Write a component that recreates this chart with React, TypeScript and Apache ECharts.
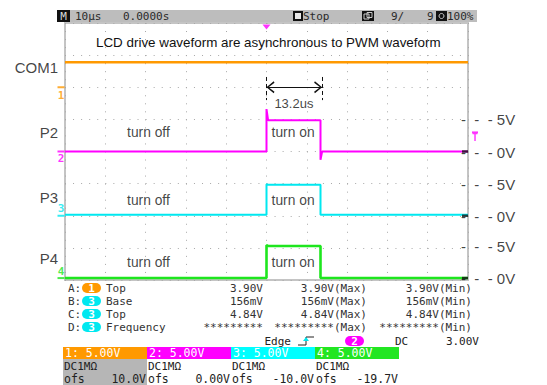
import { useEffect, useRef } from "react";
import * as echarts from "echarts";

// ---------------- data ----------------
// time axis in microseconds (10 us/div, trigger at 0)
const timeUs = [-50, 0, 0, 0.4, 13.4, 13.4, 13.8, 50];
const com1Time = [-50, 50];
const com1V = [3.9, 3.9];
const p2V = [0, 0, 6.6, 4.85, 4.85, -1.3, 0, 0];
const p3V = [0.16, 0.16, 4.9, 4.84, 4.84, 0.16, 0.16, 0.16];
const p4V = [0, 0, 5.1, 5.0, 5.0, 0, 0, 0];

const channelNames = ["COM1", "P2", "P3", "P4"];
const channelNumbers = ["1", "2", "3", "4"];
const channelOffsetsV = [10, 0, -10, -19.7];
const channelScales = ["5.00V", "5.00V", "5.00V", "5.00V"];
const channelCoupling = ["DC1MΩ", "DC1MΩ", "DC1MΩ", "DC1MΩ"];
const channelOfsText = ["10.0V", "0.00V", "-10.0V", "-19.7V"];

const levelValuesV = [5, 0];
const levelLabels = ["5V", "0V"];

// annotation anchors (screen volts / microseconds)
const nameLabelY = [13.0, 2.9, -7.1, -16.6];
const stateLabels = ["turn off", "turn on"];
const stateLabelT = [-29.3, 6.6];
const stateLabelY = [2.9, -7.7, -17.2];

const titleText = "LCD drive waveform are asynchronous to PWM waveform";
const pulseWidthLabel = "13.2us";
const pulseMarkT = [0, 13.8];
const pulseMarkY = 10;
const pulseMarkSpan = [11.6, 8.0];
const pulseLabelAt = [6.8, 7.4];

// top status bar
const timebase = "10µs";
const delayText = "0.0000s";
const runState = "Stop";
const acqCount = "9/";
const acqTotal = "9";
const zoomPct = "100%";

// measurements
const measSlots = ["A:", "B:", "C:", "D:"];
const measSources = [0, 2, 2, 2];
const measNames = ["Top", "Base", "Top", "Frequency"];
const measCurrent = ["3.90V", "156mV", "4.84V", "*********"];
const measMax = ["3.90V(Max)", "156mV(Max)", "4.84V(Max)", "*********(Max)"];
const measMin = ["3.90V(Min)", "156mV(Min)", "4.84V(Min)", "*********(Min)"];

// trigger
const trigType = "Edge";
const trigSource = 1;
const trigCoupling = "DC";
const trigLevelV = 3.0;
const trigLevelText = "3.00V";

// ---------------- styles ----------------
const SANS = '"Liberation Sans", Arial, sans-serif';
const MONO = '"DejaVu Sans Mono", "Liberation Mono", monospace';
const COLORS = ["#ff9900", "#ff00ff", "#00e8f0", "#1ee61e"];
const HEADER_COLORS = ["#ff9900", "#ff00ff", "#00ffff", "#22e622"];
const NBSP = "\u00a0";

function txt(x: number, y: number, text: string, opt: any = {}) {
  const align = opt.align || "left";
  return {
    type: "text",
    x,
    y,
    silent: true,
    style: {
      text,
      fill: opt.fill || "#2a2a2a",
      fontSize: opt.fontSize || 11,
      fontFamily: opt.fontFamily || MONO,
      fontWeight: opt.fontWeight || "normal",
      align,
      textAlign: align,
      verticalAlign: "middle",
      textVerticalAlign: "middle",
    },
  };
}

function pill(x: number, yc: number, color: string, label: string) {
  return [
    {
      type: "rect",
      silent: true,
      shape: { x, y: yc - 5, width: 19, height: 10, r: 5 },
      style: { fill: color },
    },
    txt(x + 9.5, yc, label, { fill: "#fff", align: "center", fontWeight: "bold" }),
  ];
}

function buildGraphic() {
  const g: any[] = [];
  // status bar
  g.push({ type: "rect", silent: true, shape: { x: 57, y: 10, width: 420, height: 12 }, style: { fill: "#bdbdbd" } });
  g.push({ type: "rect", silent: true, shape: { x: 57, y: 10, width: 13, height: 12 }, style: { fill: "#111" } });
  g.push(txt(63.5, 16, "M", { fill: "#d8d8d8", align: "center" }));
  g.push(txt(75, 16, timebase));
  g.push(txt(123, 16, delayText));
  g.push({ type: "rect", silent: true, shape: { x: 293, y: 11, width: 10, height: 10 }, style: { fill: "#111" } });
  g.push({ type: "rect", silent: true, shape: { x: 295, y: 13, width: 6, height: 6 }, style: { fill: "#e8e8e8" } });
  g.push(txt(303, 16, runState));
  g.push({ type: "rect", silent: true, shape: { x: 362, y: 11, width: 12, height: 10 }, style: { fill: "#111" } });
  g.push({ type: "rect", silent: true, shape: { x: 364, y: 14, width: 5, height: 5 }, style: { fill: "none", stroke: "#ccc", lineWidth: 1 } });
  g.push({ type: "rect", silent: true, shape: { x: 367, y: 12.5, width: 5, height: 5 }, style: { fill: "none", stroke: "#ccc", lineWidth: 1 } });
  g.push(txt(391, 16, acqCount));
  g.push(txt(427, 16, acqTotal));
  g.push({ type: "rect", silent: true, shape: { x: 436, y: 11, width: 11, height: 10 }, style: { fill: "#111" } });
  g.push({ type: "circle", silent: true, shape: { cx: 441.5, cy: 16, r: 2.5 }, style: { fill: "none", stroke: "#ccc", lineWidth: 1 } });
  g.push(txt(447, 16, zoomPct));

  // measurement rows
  const rowY = [288, 301, 314, 327];
  measSlots.forEach((slot, i) => {
    const y = rowY[i];
    g.push(txt(68, y, slot, { fill: "#333" }));
    g.push(...pill(82, y, COLORS[measSources[i]], channelNumbers[measSources[i]]));
    g.push(txt(106, y, measNames[i], { fill: "#333" }));
    g.push(txt(263, y, measCurrent[i], { fill: "#333", align: "right" }));
    g.push(txt(367, y, measMax[i], { fill: "#333", align: "right" }));
    g.push(txt(472, y, measMin[i], { fill: "#333", align: "right" }));
  });
  // trigger row
  const ty = 341;
  g.push(txt(291, ty, trigType, { fill: "#222", align: "right" }));
  g.push({ type: "polyline", silent: true, shape: { points: [[298, 345], [306, 345], [306, 337], [314, 337]] }, style: { stroke: "#222", lineWidth: 1, fill: "none" } });
  g.push({ type: "polygon", silent: true, shape: { points: [[303, 341], [306, 337], [309, 341]] }, style: { fill: COLORS[2] } });
  g.push(...pill(345, ty, COLORS[trigSource], channelNumbers[trigSource]));
  g.push(txt(395, ty, trigCoupling, { fill: "#222" }));
  g.push(txt(479, ty, trigLevelText, { fill: "#222", align: "right" }));

  // channel panels
  channelScales.forEach((sc, i) => {
    const x0 = 63 + i * 84;
    g.push({ type: "rect", silent: true, shape: { x: x0, y: 347, width: 84, height: 12 }, style: { fill: HEADER_COLORS[i] } });
    g.push(txt(x0 + 2, 353, `${channelNumbers[i]}: ${sc}`, { fill: "#fff", fontSize: 11.5 }));
    g.push({ type: "rect", silent: true, shape: { x: x0, y: 359, width: 84, height: 26 }, style: { fill: i === 0 ? "#b6b6b6" : "#fff" } });
    g.push(txt(x0 + 1, 366, channelCoupling[i], { fill: "#222" }));
    g.push(txt(x0 + 1, 379, "ofs", { fill: "#222", fontSize: 11.5 }));
    g.push(txt(x0 + 83, 379, channelOfsText[i], { fill: "#222", align: "right", fontSize: 11.5 }));
  });
  return g;
}

const chevron = "path://M0,9 L6,0 L12,9 L10.6,10 L6,2.6 L1.4,10 Z";

function buildOption() {
  const traces = [
    { name: channelNames[3], ts: timeUs, vs: p4V, ch: 3, width: 2.6 },
    { name: channelNames[2], ts: timeUs, vs: p3V, ch: 2, width: 2 },
    { name: channelNames[1], ts: timeUs, vs: p2V, ch: 1, width: 2 },
    { name: channelNames[0], ts: com1Time, vs: com1V, ch: 0, width: 2.4 },
  ].map((s) => ({
    type: "line",
    name: s.name,
    data: s.ts.map((t, i) => [t, s.vs[i] + channelOffsetsV[s.ch]]),
    showSymbol: false,
    symbol: "none",
    silent: true,
    lineStyle: { color: COLORS[s.ch], width: s.width },
    itemStyle: { color: COLORS[s.ch] },
    z: 3,
    ...(s.ch === 1
      ? {
          markLine: {
            silent: true,
            symbol: ["none", "none"],
            label: { show: false },
            lineStyle: { color: "#111", width: 1, type: "solid" },
            data: [
              [
                { coord: [pulseMarkT[0], pulseMarkY], symbol: chevron, symbolSize: [12, 8], symbolOffset: [0, 4] },
                { coord: [pulseMarkT[1], pulseMarkY], symbol: chevron, symbolSize: [12, 8], symbolOffset: [0, 4] },
              ],
              [
                { coord: [pulseMarkT[0], pulseMarkSpan[0]], lineStyle: { type: [4, 3] } },
                { coord: [pulseMarkT[0], pulseMarkSpan[1]] },
              ],
              [
                { coord: [pulseMarkT[1], pulseMarkSpan[0]], lineStyle: { type: [4, 3] } },
                { coord: [pulseMarkT[1], pulseMarkSpan[1]] },
              ],
            ],
          },
        }
      : {}),
  }));

  const textScatter = (data: any[], label: any, z = 5) => ({
    type: "scatter",
    data,
    symbolSize: 0,
    clip: false,
    silent: true,
    itemStyle: { color: "transparent" },
    label: { show: true, formatter: "{b}", ...label },
    z,
  });

  const nameLabels = textScatter(
    channelNames.map((n, i) => ({ name: n, value: [-50, nameLabelY[i]] })),
    { position: "left", distance: 7, fontFamily: SANS, fontSize: 15, color: "#111" }
  );

  const stateData: any[] = [];
  stateLabelY.forEach((y) => {
    stateLabels.forEach((s, j) => stateData.push({ name: s, value: [stateLabelT[j], y] }));
  });
  const stateText = textScatter(stateData, { position: "inside", fontFamily: SANS, fontSize: 13.8, color: "#111" });

  const widthText = textScatter([{ name: pulseWidthLabel, value: pulseLabelAt }], {
    position: "inside",
    fontFamily: SANS,
    fontSize: 13,
    color: "#111",
  });

  const levelData: any[] = [];
  [1, 2, 3].forEach((ch) => {
    levelValuesV.forEach((v, j) =>
      levelData.push({ name: levelLabels[j], value: [50, v + channelOffsetsV[ch]] })
    );
  });
  const levelText = textScatter(levelData, {
    position: "right",
    distance: 0,
    offset: [-7, 0.5],
    fontFamily: SANS,
    fontSize: 15,
    lineHeight: 12,
    color: "#111",
    formatter: (p: any) => `-${NBSP}${NBSP}-${NBSP}${NBSP}-${NBSP}${p.name}`,
  });

  const zeroMarks = {
    type: "scatter",
    data: [1, 2, 3].map((ch) => [50, channelOffsetsV[ch]]),
    symbol: "rect",
    symbolSize: [6, 2.5],
    symbolOffset: [-3, 0],
    clip: false,
    silent: true,
    itemStyle: { color: "#111" },
    z: 6,
  };

  const labelDy = [8.5, 7, -7.5, -7];
  const groundMarks = {
    type: "scatter",
    data: channelNumbers.map((n, i) => ({
      name: n,
      value: [-50, channelOffsetsV[i]],
      itemStyle: { color: COLORS[i] },
      label: { offset: [0, labelDy[i]], color: COLORS[i] },
    })),
    symbol: "rect",
    symbolSize: [7, 2],
    symbolOffset: [-4, 0],
    clip: false,
    silent: true,
    label: { show: true, formatter: "{b}", position: "inside", fontFamily: MONO, fontWeight: "bold", fontSize: 11 },
    z: 6,
  };

  const trigMarks = {
    type: "scatter",
    data: [
      { name: "", value: [0, 20], symbol: "triangle", symbolRotate: 180, symbolSize: [8, 5], symbolOffset: [0, 4] },
      {
        name: "T",
        value: [50, trigLevelV],
        symbol: "rect",
        symbolSize: [6, 1.6],
        symbolOffset: [7, 0],
        label: { show: true, formatter: "{b}", position: "inside", offset: [0, 5.5], lineHeight: 10, color: COLORS[1], fontFamily: MONO, fontWeight: "bold", fontSize: 10 },
      },
    ],
    clip: false,
    silent: true,
    itemStyle: { color: COLORS[1] },
    z: 6,
  };

  return {
    animation: false,
    backgroundColor: "#ffffff",
    title: {
      text: titleText,
      left: 96,
      top: 36,
      padding: 0,
      textStyle: { fontFamily: SANS, fontSize: 13.4, fontWeight: "normal", color: "#111" },
    },
    grid: {
      left: 65,
      top: 23,
      width: 403,
      height: 257,
      show: true,
      backgroundColor: "#fff",
      borderColor: "#c4c4c4",
      borderWidth: 2,
    },
    xAxis: {
      type: "value",
      min: -50,
      max: 50,
      interval: 10,
      axisLine: { show: false },
      axisTick: { show: false },
      axisLabel: { show: false },
      splitLine: { show: true, lineStyle: { color: "#a8a8a8", width: 1, type: [1, 7.03] } },
    },
    yAxis: {
      type: "value",
      min: -20,
      max: 20,
      interval: 5,
      axisLine: { show: false },
      axisTick: { show: false },
      axisLabel: { show: false },
      splitLine: { show: true, lineStyle: { color: "#a8a8a8", width: 1, type: [1, 7.06] } },
    },
    graphic: buildGraphic(),
    series: [...traces, nameLabels, stateText, widthText, levelText, zeroMarks, groundMarks, trigMarks],
  };
}

export default function App() {
  const ref = useRef<HTMLDivElement>(null);
  useEffect(() => {
    document.body.style.margin = "0";
    const chart = echarts.init(ref.current!, null, { renderer: "svg" });
    chart.setOption(buildOption() as any);
    return () => chart.dispose();
  }, []);
  return <div ref={ref} style={{ width: 547, height: 385, overflow: "hidden" }} />;
}
